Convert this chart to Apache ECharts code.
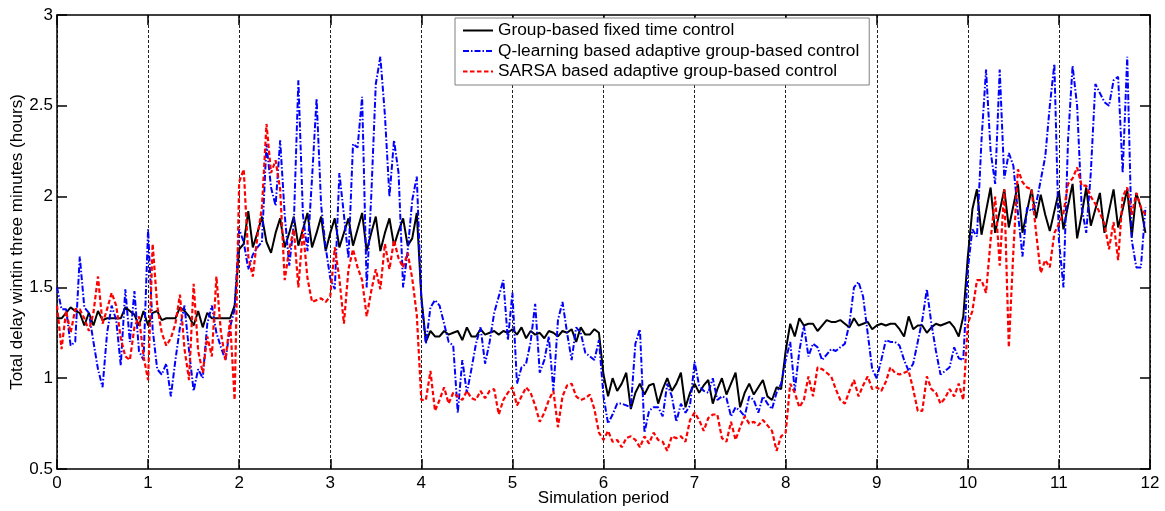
<!DOCTYPE html>
<html>
<head>
<meta charset="utf-8">
<script src="https://cdn.jsdelivr.net/npm/echarts@6/dist/echarts.min.js"></script>
<style>html,body{margin:0;padding:0;background:#fff}#c{width:1165px;height:511px}</style>
</head>
<body>
<div id="c"></div>
<script>
// sampling interval along x (simulation periods per sample)
const timeStep = 0.05;
const xTicks = [0,1,2,3,4,5,6,7,8,9,10,11,12];
const seriesNames = ['Group-based fixed time control','Q-learning based adaptive group-based control','SARSA based adaptive group-based control'];

const fixedTime = [
1.33,1.33,1.36,1.39,1.37,1.36,1.29,1.36,1.29,1.37,1.32,1.33,1.33,1.33,1.33,1.39,1.37,1.35,1.29,1.37,
1.29,1.36,1.37,1.32,1.33,1.33,1.33,1.39,1.37,1.34,1.29,1.37,1.28,1.36,1.33,1.33,1.33,1.33,1.33,1.40,
1.71,1.74,1.92,1.72,1.80,1.89,1.75,1.69,1.80,1.88,1.72,1.80,1.89,1.73,1.82,1.91,1.72,1.80,1.89,1.70,
1.80,1.88,1.72,1.80,1.88,1.73,1.82,1.91,1.70,1.80,1.89,1.70,1.80,1.88,1.73,1.81,1.88,1.73,1.77,1.91,
1.45,1.20,1.26,1.23,1.23,1.26,1.24,1.25,1.26,1.21,1.28,1.23,1.23,1.27,1.24,1.25,1.26,1.24,1.26,1.25,
1.27,1.24,1.28,1.22,1.26,1.24,1.25,1.22,1.26,1.25,1.23,1.26,1.25,1.27,1.20,1.28,1.24,1.24,1.27,1.25,
1.02,0.90,1.00,0.93,0.97,1.03,0.83,0.92,0.97,0.91,0.96,0.97,0.86,0.94,1.00,0.93,0.97,1.03,0.84,0.92,
0.97,0.92,0.96,0.99,0.86,0.94,1.00,0.91,0.97,1.03,0.84,0.92,0.97,0.91,0.95,0.99,0.90,0.88,0.95,0.94,
1.15,1.30,1.23,1.33,1.29,1.30,1.30,1.26,1.29,1.32,1.31,1.31,1.32,1.30,1.28,1.33,1.29,1.30,1.31,1.27,
1.29,1.30,1.29,1.30,1.30,1.27,1.23,1.34,1.27,1.29,1.29,1.25,1.28,1.30,1.29,1.30,1.31,1.28,1.23,1.34,
1.67,1.93,2.04,1.79,1.92,2.05,1.80,1.92,2.04,1.83,1.95,2.07,1.80,1.92,2.04,1.88,2.01,1.90,1.81,1.92,
2.03,1.82,1.95,2.07,1.77,1.90,2.05,1.84,1.93,2.02,1.80,1.92,2.04,1.83,1.93,2.04,1.78,2.02,1.94,1.80
];
const qLearning = [
1.50,1.38,1.38,1.18,1.20,1.67,1.39,1.36,1.20,1.05,0.95,1.25,1.40,1.32,1.07,1.49,1.20,1.48,1.15,1.10,
1.82,1.27,1.05,1.02,1.08,0.90,1.10,1.28,1.40,1.15,0.93,1.05,1.00,1.30,1.40,1.25,1.17,1.10,1.28,1.38,
1.82,1.75,1.60,1.68,1.72,1.75,2.29,2.05,1.95,2.31,1.90,1.62,1.85,2.64,1.90,1.70,2.10,2.54,1.95,1.72,
1.55,1.49,2.13,1.90,1.66,2.29,2.27,2.55,1.50,2.00,2.62,2.77,2.45,2.00,2.31,2.13,1.50,1.70,1.98,2.11,
1.43,1.19,1.39,1.43,1.40,1.30,1.20,1.18,0.81,1.10,0.92,1.05,1.19,1.28,1.08,1.20,1.36,1.45,1.54,1.21,
1.47,0.97,1.06,1.08,1.20,1.41,1.03,1.10,1.23,0.93,1.32,1.42,1.25,1.10,1.28,1.25,1.14,1.12,1.10,1.21,
0.90,0.75,0.80,0.86,0.86,0.85,0.84,1.19,1.27,0.70,0.82,0.84,0.84,0.79,0.97,0.90,0.76,0.86,0.81,0.85,
1.09,0.96,0.93,0.92,1.00,0.88,0.90,0.89,0.79,0.84,0.82,0.79,0.90,0.88,0.81,0.90,0.86,0.83,0.92,0.97,
1.10,1.20,0.93,1.15,1.29,1.12,1.19,1.17,1.10,1.13,1.16,1.15,1.17,1.19,1.30,1.50,1.53,1.45,1.25,1.05,
1.00,1.10,1.21,1.20,1.20,1.18,1.10,1.04,1.08,1.20,1.32,1.49,1.30,1.15,1.02,1.04,1.06,1.17,1.11,1.10,
1.60,1.82,1.78,2.31,2.70,2.25,2.07,2.70,2.10,2.24,2.17,1.91,1.67,1.94,1.92,1.96,2.09,2.22,2.50,2.73,
1.76,1.50,2.31,2.72,2.50,1.94,1.80,2.13,2.62,2.57,2.52,2.50,2.64,2.66,2.13,2.77,1.76,1.61,1.61,1.94
];
const sarsa = [
1.40,1.16,1.37,1.25,1.38,1.38,1.33,1.26,1.36,1.56,1.30,1.38,1.47,1.40,1.22,1.12,1.10,1.28,1.34,1.12,
0.99,1.74,1.40,1.25,1.18,1.22,1.30,1.46,1.16,0.99,1.52,1.15,1.03,1.23,1.12,1.56,1.25,1.10,1.32,0.88,
2.08,2.15,1.67,1.56,1.78,1.94,2.40,2.13,2.20,2.04,1.54,1.71,1.82,1.50,1.82,1.55,1.42,1.43,1.44,1.42,
1.45,1.72,1.55,1.30,1.60,1.71,1.61,1.54,1.34,1.48,1.60,1.49,1.74,1.60,1.76,1.66,1.61,1.69,1.55,1.35,
0.88,0.88,1.04,0.82,0.88,0.95,0.86,0.92,0.90,0.88,0.93,0.89,0.88,0.93,0.89,0.93,0.94,0.80,0.88,0.92,
0.95,0.85,0.90,0.95,0.92,0.85,0.76,0.81,0.88,0.93,0.73,0.90,0.96,0.97,0.90,0.88,0.89,0.91,0.83,0.70,
0.66,0.71,0.65,0.66,0.62,0.67,0.68,0.66,0.62,0.68,0.64,0.70,0.66,0.65,0.60,0.68,0.67,0.68,0.65,0.77,
0.81,0.77,0.71,0.78,0.80,0.80,0.67,0.65,0.76,0.66,0.73,0.79,0.75,0.76,0.74,0.77,0.74,0.71,0.60,0.68,
0.70,0.97,0.92,0.84,0.88,1.01,0.90,1.06,1.05,1.03,1.01,0.94,0.88,0.86,0.93,0.99,0.90,0.96,1.01,0.94,
0.95,0.93,0.98,1.06,1.03,1.02,1.03,1.04,0.94,0.82,0.82,1.01,0.94,0.92,0.86,0.89,0.94,0.90,0.97,0.88,
1.30,1.37,1.54,1.54,1.47,1.76,2.00,1.62,2.04,1.17,1.70,2.15,2.08,2.05,2.04,1.80,1.58,1.65,1.61,1.80,
1.85,1.91,2.07,2.10,2.16,2.06,2.06,2.00,1.96,1.91,1.85,1.71,1.86,1.65,2.00,2.05,1.90,2.02,1.94,1.90
];

const FONT = '"Liberation Sans", Arial, Helvetica, sans-serif';
const toPairs = arr => arr.map((v, i) => [+(i * timeStep).toFixed(2), v]);

const axisLineStyle = {color: '#000', width: 1.5};
const tickStyle = {show: true, inside: true, length: 10, lineStyle: {color: '#000', width: 1.5}};

const chart = echarts.init(document.getElementById('c'), null, {renderer: 'canvas'});
chart.setOption({
  animation: false,
  backgroundColor: '#fff',
  grid: {left: 57, right: 15, top: 15, bottom: 42, containLabel: false, outerBoundsMode: 'none'},
  legend: {
    orient: 'vertical', left: 455, top: 18,
    padding: [4, 10, 5, 7],
    itemWidth: 30, itemHeight: 12, itemGap: 3.5,
    borderColor: '#808080', borderWidth: 1, backgroundColor: '#fff',
    itemStyle: {opacity: 0},
    textStyle: {fontSize: 17.3, color: '#000', fontFamily: FONT, lineHeight: 17},
    data: seriesNames
  },
  xAxis: [{
    type: 'value', min: xTicks[0], max: xTicks[xTicks.length - 1], interval: 1,
    position: 'bottom',
    axisLine: {show: true, onZero: false, lineStyle: axisLineStyle},
    axisTick: tickStyle,
    axisLabel: {color: '#000', fontSize: 17, fontFamily: FONT, margin: 6},
    splitLine: {show: true, lineStyle: {color: '#222', width: 1, type: [3, 2]}},
    name: 'Simulation period', nameLocation: 'middle', nameGap: 21, nameMoveOverlap: false,
    nameTextStyle: {color: '#000', fontSize: 17, fontFamily: FONT}
  }, {
    type: 'value', min: xTicks[0], max: xTicks[xTicks.length - 1], interval: 1,
    position: 'top',
    axisLine: {show: true, onZero: false, lineStyle: axisLineStyle},
    axisTick: tickStyle,
    axisLabel: {show: false},
    splitLine: {show: false}
  }],
  yAxis: [{
    type: 'value', min: 0.5, max: 3, interval: 0.5,
    position: 'left',
    axisLine: {show: true, onZero: false, lineStyle: axisLineStyle},
    axisTick: tickStyle,
    axisLabel: {color: '#000', fontSize: 17, fontFamily: FONT, margin: 4},
    splitLine: {show: false},
    name: 'Total delay wintin three minutes (hours)', nameLocation: 'middle', nameGap: 31, nameMoveOverlap: false,
    nameTextStyle: {color: '#000', fontSize: 17, fontFamily: FONT}
  }, {
    type: 'value', min: 0.5, max: 3, interval: 0.5,
    position: 'right',
    axisLine: {show: true, onZero: false, lineStyle: axisLineStyle},
    axisTick: tickStyle,
    axisLabel: {show: false},
    splitLine: {show: false}
  }],
  series: [{
    name: seriesNames[0], type: 'line', symbol: 'none', xAxisIndex: 0, yAxisIndex: 0,
    data: toPairs(fixedTime),
    lineStyle: {color: '#000', width: 2, type: 'solid'},
    itemStyle: {color: '#000'}
  }, {
    name: seriesNames[1], type: 'line', symbol: 'none', xAxisIndex: 0, yAxisIndex: 0,
    data: toPairs(qLearning),
    lineStyle: {color: '#0000ff', width: 2, type: [6, 2, 1.5, 2]},
    itemStyle: {color: '#0000ff'}
  }, {
    name: seriesNames[2], type: 'line', symbol: 'none', xAxisIndex: 0, yAxisIndex: 0,
    data: toPairs(sarsa),
    lineStyle: {color: '#ff0000', width: 2.2, type: [4.5, 2.5]},
    itemStyle: {color: '#ff0000'}
  }]
});
</script>
</body>
</html>
